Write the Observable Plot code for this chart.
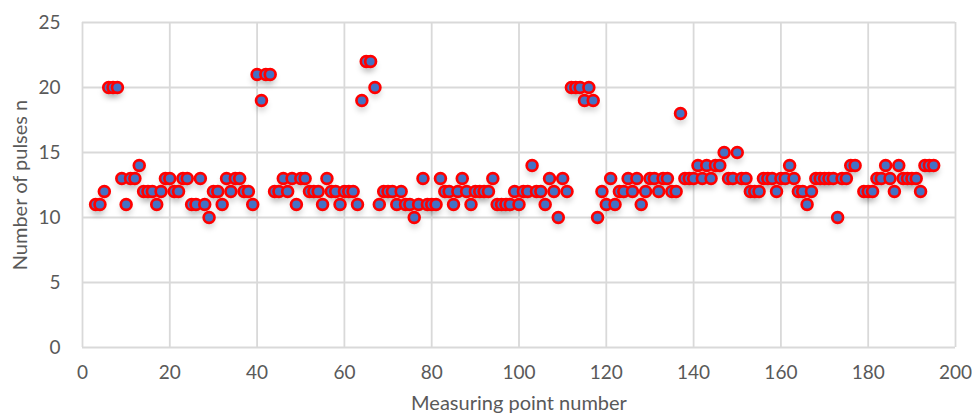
<!DOCTYPE html>
<html>
<head>
<meta charset="utf-8">
<script src="https://cdn.jsdelivr.net/npm/d3@7"></script>
<script src="https://cdn.jsdelivr.net/npm/@observablehq/plot@0.6"></script>
<style>
  html, body { margin: 0; padding: 0; background: #fff; }
  #chart svg { display: block; }
  .ytitle text, .xtitle text { letter-spacing: 0.6px; }
</style>
</head>
<body>
<div id="chart"></div>
<script>
// Measuring point numbers and pulse counts
const points = [3,4,5,6,7,8,9,10,11,12,13,14,15,16,17,18,19,20,21,22,23,24,25,26,27,28,29,30,31,32,33,34,35,36,37,38,39,40,41,42,43,44,45,46,47,48,49,50,51,52,53,54,55,56,57,58,59,60,61,62,63,64,65,66,67,68,69,70,71,72,73,74,75,76,77,78,79,80,81,82,83,84,85,86,87,88,89,90,91,92,93,94,95,96,97,98,99,100,101,102,103,104,105,106,107,108,109,110,111,112,113,114,115,116,117,118,119,120,121,122,123,124,125,126,127,128,129,130,131,132,133,134,135,136,137,138,139,140,141,142,143,144,145,146,147,148,149,150,151,152,153,154,155,156,157,158,159,160,161,162,163,164,165,166,167,168,169,170,171,172,173,174,175,176,177,179,180,181,182,183,184,185,186,187,188,189,190,191,192,193,194,195];
const pulses = [11,11,12,20,20,20,13,11,13,13,14,12,12,12,11,12,13,13,12,12,13,13,11,11,13,11,10,12,12,11,13,12,13,13,12,12,11,21,19,21,21,12,12,13,12,13,11,13,13,12,12,12,11,13,12,12,11,12,12,12,11,19,22,22,20,11,12,12,12,11,12,11,11,10,11,13,11,11,11,13,12,12,11,12,13,12,11,12,12,12,12,13,11,11,11,11,12,11,12,12,14,12,12,11,13,12,10,13,12,20,20,20,19,20,19,10,12,11,13,11,12,12,13,12,13,11,12,13,13,12,13,13,12,12,18,13,13,13,14,13,14,13,14,14,15,13,13,15,13,13,12,12,12,13,13,13,12,13,13,14,13,12,12,11,12,13,13,13,13,13,10,13,13,14,14,12,12,12,13,13,14,13,12,14,13,13,13,13,12,14,14,14];
const xTicks = [0,20,40,60,80,100,120,140,160,180,200];
const yTicks = [0,5,10,15,20,25];

const data = points.map((p, i) => ({point: p, n: pulses[i]}));

const chart = Plot.plot({
  width: 972,
  height: 418,
  marginLeft: 82,
  marginRight: 17,
  marginTop: 22,
  marginBottom: 71,
  style: {fontFamily: "Lato, 'Open Sans', sans-serif", fontSize: "19px", color: "#595959", background: "#fff"},
  x: {domain: [0, 200]},
  y: {domain: [0, 25]},
  marks: [
    Plot.gridX(xTicks, {stroke: "#d9d9d9", strokeOpacity: 1, strokeWidth: 1.8}),
    Plot.gridY(yTicks, {stroke: "#d9d9d9", strokeOpacity: 1, strokeWidth: 1.8}),
    Plot.axisX({ticks: xTicks, tickSize: 0, tickPadding: 18, label: null, fill: "#595959", fontSize: 19}),
    Plot.axisX({ticks: [], tickSize: 0, label: "Measuring point number", labelAnchor: "center", labelOffset: 62, labelArrow: "none", fill: "#595959", fontSize: 20, className: "xtitle"}),
    Plot.axisY({ticks: yTicks, tickSize: 0, tickPadding: 22, label: null, fill: "#595959", fontSize: 19}),
    Plot.axisY({ticks: [], tickSize: 0, label: "Number of pulses n", labelAnchor: "center", labelOffset: 70, labelArrow: "none", fill: "#595959", fontSize: 20, className: "ytitle"}),
    Plot.dot(data, {x: "point", y: "n", r: 6.5, fill: "#000", fillOpacity: 0.13, stroke: "none", dy: 5, className: "shadow"}),
    Plot.dot(data, {x: "point", y: "n", r: 5.4, fill: "#4472C4", stroke: "#ff0000", strokeWidth: 2.7})
  ]
});

const svgNS = "http://www.w3.org/2000/svg";
const defs = document.createElementNS(svgNS, "defs");
const filter = document.createElementNS(svgNS, "filter");
filter.setAttribute("id", "softShadow");
filter.setAttribute("x", "-50%"); filter.setAttribute("y", "-50%");
filter.setAttribute("width", "200%"); filter.setAttribute("height", "200%");
const blur = document.createElementNS(svgNS, "feGaussianBlur");
blur.setAttribute("stdDeviation", "2.5");
filter.appendChild(blur);
defs.appendChild(filter);
chart.insertBefore(defs, chart.firstChild);
chart.querySelectorAll(".shadow").forEach(g => g.setAttribute("filter", "url(#softShadow)"));

document.getElementById("chart").appendChild(chart);
</script>
</body>
</html>
